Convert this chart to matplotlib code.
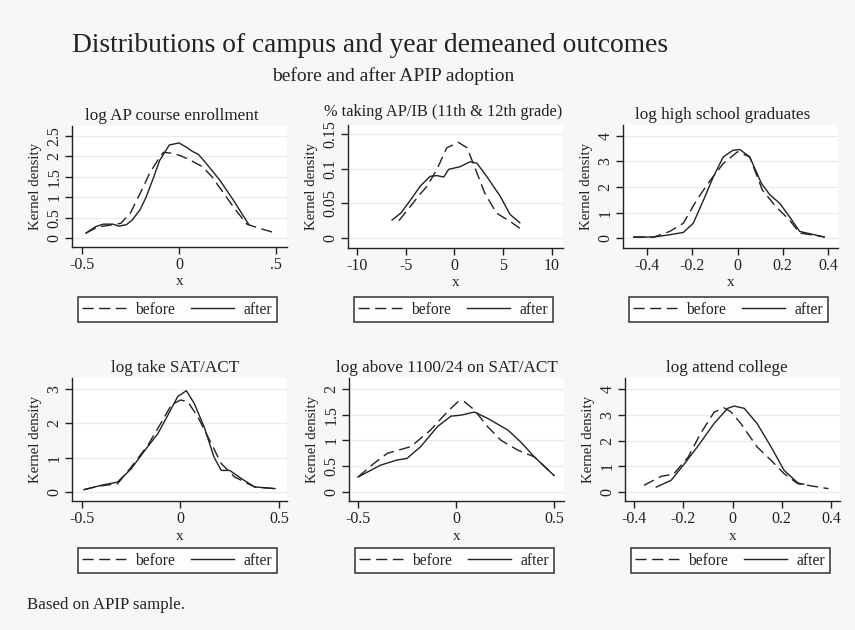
import matplotlib
matplotlib.use("Agg")
import matplotlib.pyplot as plt
import numpy as np

plt.rcParams['font.family'] = ['Liberation Serif', 'DejaVu Serif']
plt.rcParams['lines.scale_dashes'] = False

# --- data: (x, density) for each panel --------------------------------------

titles = ["log AP course enrollment", "% taking AP/IB (11th & 12th grade)",
          "log high school graduates", "log take SAT/ACT",
          "log above 1100/24 on SAT/ACT", "log attend college"]

ap_before_x = [-0.48, -0.42, -0.35, -0.3, -0.25, -0.2, -0.15, -0.1, -0.08, -0.04, 0.0,
               0.05, 0.12, 0.17, 0.23, 0.29, 0.35, 0.4, 0.45, 0.5]
ap_before_y = [0.12, 0.27, 0.32, 0.36, 0.62, 1.1, 1.6, 1.98, 2.1, 2.08, 2.03,
               1.93, 1.75, 1.5, 1.1, 0.7, 0.34, 0.26, 0.19, 0.12]
ap_after_x = [-0.48, -0.43, -0.39, -0.34, -0.31, -0.27, -0.24, -0.2, -0.17, -0.13, -0.1,
              -0.05, 0.0, 0.04, 0.07, 0.1, 0.14, 0.21, 0.28, 0.36]
ap_after_y = [0.12, 0.28, 0.34, 0.34, 0.29, 0.33, 0.45, 0.7, 1.0, 1.5, 1.9,
              2.28, 2.33, 2.22, 2.12, 2.05, 1.83, 1.42, 0.93, 0.33]

ib_before_x = [-5.7, -4.5, -3.6, -2.8, -1.8, -0.8, 0.4, 1.3, 2.3, 3.1, 4.3, 5.7, 6.7]
ib_before_y = [0.025, 0.046, 0.062, 0.075, 0.099, 0.13, 0.138, 0.13, 0.094, 0.065,
               0.036, 0.024, 0.014]
ib_after_x = [-6.4, -5.5, -4.5, -3.5, -2.5, -1.8, -1.1, -0.6, 0.6, 1.6, 2.3, 3.3,
              4.7, 5.7, 6.7]
ib_after_y = [0.026, 0.036, 0.055, 0.075, 0.089, 0.09, 0.088, 0.099, 0.103, 0.11,
              0.108, 0.089, 0.06, 0.034, 0.022]

hs_before_x = [-0.46, -0.37, -0.3, -0.24, -0.18, -0.12, -0.063, 0.0, 0.054, 0.11,
               0.17, 0.23, 0.275, 0.385]
hs_before_y = [0.04, 0.04, 0.26, 0.58, 1.5, 2.27, 2.92, 3.38, 3.18, 1.88,
               1.23, 0.71, 0.2, 0.04]
hs_after_x = [-0.46, -0.37, -0.3, -0.24, -0.196, -0.15, -0.107, -0.063, -0.02, 0.01,
              0.054, 0.106, 0.143, 0.187, 0.23, 0.275, 0.385]
hs_after_y = [0.04, 0.04, 0.13, 0.22, 0.58, 1.5, 2.4, 3.18, 3.44, 3.47,
              3.18, 2.14, 1.7, 1.36, 0.84, 0.26, 0.04]

sat_before_x = [-0.49, -0.42, -0.32, -0.25, -0.166, -0.1, -0.047, 0.0, 0.037, 0.088,
                0.14, 0.207, 0.275, 0.376, 0.48]
sat_before_y = [0.07, 0.17, 0.24, 0.73, 1.36, 2.0, 2.53, 2.68, 2.63, 2.19,
                1.6, 0.83, 0.44, 0.15, 0.1]
sat_after_x = [-0.49, -0.4, -0.32, -0.25, -0.18, -0.115, -0.064, -0.014, 0.03, 0.07,
               0.12, 0.17, 0.207, 0.25, 0.31, 0.376, 0.48]
sat_after_y = [0.07, 0.2, 0.29, 0.68, 1.22, 1.7, 2.24, 2.78, 2.95, 2.58,
               1.9, 1.02, 0.63, 0.63, 0.39, 0.15, 0.1]

hi_before_x = [-0.5, -0.42, -0.35, -0.23, -0.13, -0.043, 0.01, 0.043, 0.094, 0.16,
               0.23, 0.316, 0.4, 0.5]
hi_before_y = [0.29, 0.55, 0.75, 0.88, 1.2, 1.56, 1.75, 1.75, 1.59, 1.27,
               1.0, 0.81, 0.68, 0.32]
hi_after_x = [-0.5, -0.385, -0.3, -0.25, -0.18, -0.094, -0.026, 0.026, 0.094, 0.16,
              0.265, 0.33, 0.4, 0.5]
hi_after_y = [0.29, 0.52, 0.62, 0.65, 0.88, 1.27, 1.47, 1.49, 1.55, 1.43,
              1.2, 0.97, 0.68, 0.32]

col_before_x = [-0.36, -0.29, -0.24, -0.18, -0.13, -0.075, -0.034, -0.007, 0.034,
                0.1, 0.157, 0.21, 0.266, 0.39]
col_before_y = [0.26, 0.61, 0.69, 1.36, 2.27, 3.1, 3.27, 3.12, 2.66,
                1.75, 1.23, 0.71, 0.32, 0.13]
col_after_x = [-0.31, -0.25, -0.2, -0.143, -0.075, -0.02, 0.007, 0.048, 0.1, 0.157,
               0.21, 0.266, 0.29]
col_after_y = [0.19, 0.45, 1.04, 1.75, 2.66, 3.25, 3.34, 3.25, 2.66, 1.75,
               0.84, 0.35, 0.3]

befores = [(ap_before_x, ap_before_y), (ib_before_x, ib_before_y), (hs_before_x, hs_before_y),
           (sat_before_x, sat_before_y), (hi_before_x, hi_before_y), (col_before_x, col_before_y)]
afters = [(ap_after_x, ap_after_y), (ib_after_x, ib_after_y), (hs_after_x, hs_after_y),
          (sat_after_x, sat_after_y), (hi_after_x, hi_after_y), (col_after_x, col_after_y)]

xticks = [[-0.5, 0, 0.5], [-10, -5, 0, 5, 10], [-0.4, -0.2, 0, 0.2, 0.4],
          [-0.5, 0, 0.5], [-0.5, 0, 0.5], [-0.4, -0.2, 0, 0.2, 0.4]]
xticklabels = [["-0.5", "0", ".5"], ["-10", "-5", "0", "5", "10"],
               ["-0.4", "-0.2", "0", "0.2", "0.4"], ["-0.5", "0", "0.5"],
               ["-0.5", "0", "0.5"], ["-0.4", "-0.2", "0", "0.2", "0.4"]]
yticks = [[0, 0.5, 1, 1.5, 2, 2.5], [0, 0.05, 0.1, 0.15], [0, 1, 2, 3, 4],
          [0, 1, 2, 3], [0, 0.5, 1, 1.5, 2], [0, 1, 2, 3, 4]]
yticklabels = [["0", "0.5", "1", "1.5", "2", "2.5"], ["0", "0.05", "0.1", "0.15"],
               ["0", "1", "2", "3", "4"], ["0", "1", "2", "3"],
               ["0", "0.5", "1", "1.5", "2"], ["0", "1", "2", "3", "4"]]
xlims = [(-0.552, 0.557), (-10.92, 11.13), (-0.507, 0.445),
         (-0.551, 0.541), (-0.546, 0.551), (-0.437, 0.437)]
ylims = [(-0.22, 2.745), (-0.0144, 0.163), (-0.39, 4.43),
         (-0.26, 3.32), (-0.175, 2.21), (-0.35, 4.43)]

# --- layout (pixels in a 855x630 canvas) ------------------------------------
W, H = 855, 630
lefts = [72, 348, 623, 72, 349, 625]
tops = [126, 125, 125, 378, 378, 378]
heights = [121, 123, 123, 123, 123, 123]
axw = 215
leg_gap = [50, 49, 49, 47, 47, 47]
title_shift = [-8, -12, -8, -4, -10, -6]
title_size = [12.3, 11.8, 12.3, 12.3, 12.3, 12.3]
title_pad = [4, 6.5, 4, 4, 4, 4]

bg = '#f7f7f7'
ink = '#222222'

fig = plt.figure(figsize=(W / 100, H / 100), dpi=100, facecolor=bg)

for i in range(6):
    l, t, h = lefts[i], tops[i], heights[i]
    ax = fig.add_axes([l / W, 1 - (t + h) / H, axw / W, h / H])
    ax.set_facecolor('white')
    for s in ['top', 'right']:
        ax.spines[s].set_visible(False)
    for s in ['left', 'bottom']:
        ax.spines[s].set_color(ink)
        ax.spines[s].set_linewidth(1.0)

    ax.grid(True, axis='y', color='#ebebeb', lw=0.9)
    ax.set_axisbelow(True)

    bx, by = befores[i]
    axx, axy = afters[i]
    ax.plot(bx, by, color=ink, lw=1.0, dashes=(8, 4), label='before')
    ax.plot(axx, axy, color=ink, lw=1.0, label='after')

    ax.set_xlim(*xlims[i])
    ax.set_ylim(*ylims[i])
    ax.set_xticks(xticks[i])
    ax.set_xticklabels(xticklabels[i])
    ax.set_yticks(yticks[i])
    ax.set_yticklabels(yticklabels[i], rotation=90, va='center')
    ax.tick_params(axis='both', direction='out', length=5, width=1.0,
                   color=ink, labelcolor=ink, labelsize=11.5, pad=2)

    ax.set_xlabel('x', fontsize=11, color=ink, labelpad=2)
    ax.set_ylabel('Kernel density', fontsize=10.7, color=ink, labelpad=3)
    ax.set_title(titles[i], fontsize=title_size[i], color=ink, pad=title_pad[i],
                 x=0.5 + title_shift[i] / axw)

    g = leg_gap[i] / h
    leg = ax.legend(loc='upper center', bbox_to_anchor=(0.49, -g),
                    ncol=2, fontsize=11.2, frameon=True, fancybox=False,
                    handlelength=2.8, handletextpad=0.6, columnspacing=1.0,
                    borderpad=0.3, borderaxespad=0)
    leg.get_frame().set_edgecolor('black')
    leg.get_frame().set_linewidth(1.1)
    for txt in leg.get_texts():
        txt.set_color(ink)

fig.text(72 / W, 1 - 45 / H, "Distributions of campus and year demeaned outcomes",
         fontsize=19.8, color=ink, ha='left', va='center')
fig.text(272 / W, 1 - 76 / H, "before and after APIP adoption",
         fontsize=14, color=ink, ha='left', va='center')
fig.text(27 / W, 1 - 605 / H, "Based on APIP sample.", fontsize=12.2, color=ink,
         ha='left', va='center')

fig.savefig('out.png', dpi=100, facecolor=bg)
